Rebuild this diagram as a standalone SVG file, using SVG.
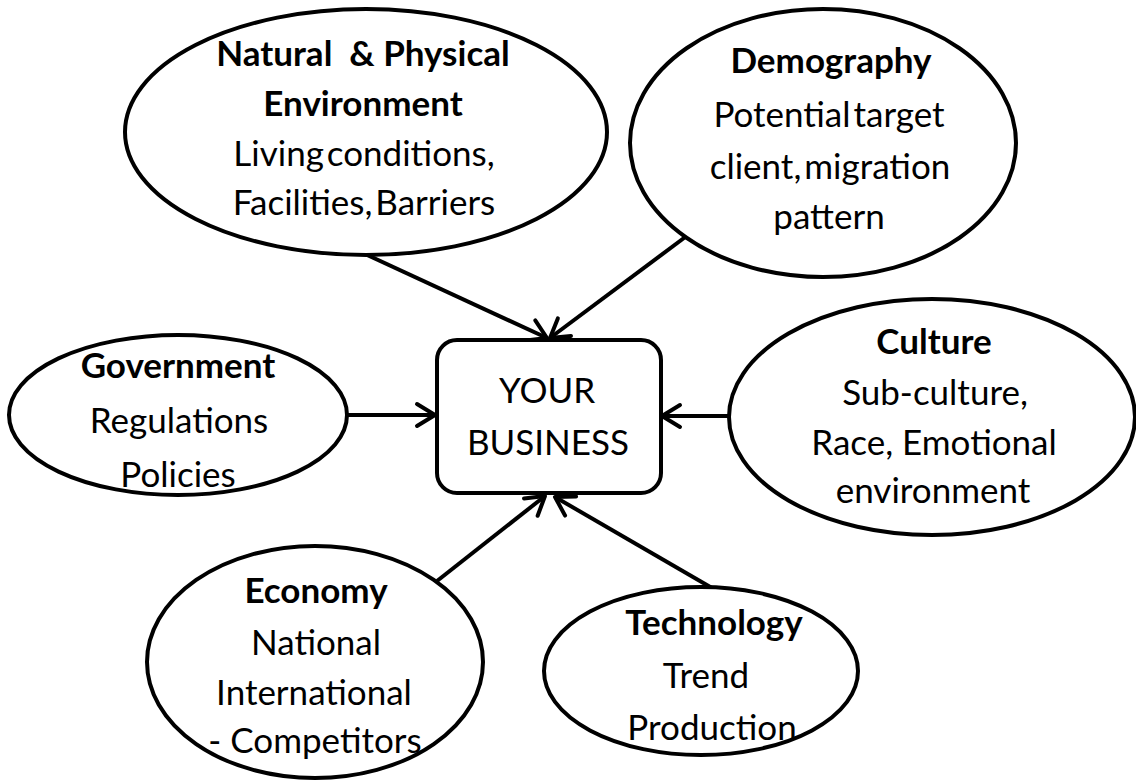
<svg xmlns="http://www.w3.org/2000/svg" width="1136" height="782" viewBox="0 0 1136 782">
<defs>
<style>
.shape{fill:#fff;stroke:#000;stroke-width:4}
.t{font-family:Lato,"Liberation Sans",sans-serif;font-size:35px;fill:#000;text-anchor:middle}
.b{font-weight:bold}
.tight{word-spacing:-6px}
.conn line{stroke:#000;stroke-width:4;fill:none}
</style>
<marker id="arr" markerUnits="userSpaceOnUse" markerWidth="30" markerHeight="30" viewBox="-24 -15 30 30" refX="0" refY="0" orient="auto">
<path d="M-18,-11 L0,0 L-18,11" fill="none" stroke="#000" stroke-width="4" stroke-linecap="round" stroke-linejoin="round"/>
</marker>
</defs>
<rect width="1136" height="782" fill="#fff"/>
<g id="connectors" class="conn">
<line x1="365" y1="254" x2="547" y2="338" marker-end="url(#arr)"/>
<line x1="688" y1="235" x2="550" y2="338" marker-end="url(#arr)"/>
<line x1="347" y1="415" x2="435" y2="415" marker-end="url(#arr)"/>
<line x1="729" y1="416" x2="662" y2="416" marker-end="url(#arr)"/>
<line x1="437" y1="581" x2="545" y2="496" marker-end="url(#arr)"/>
<line x1="712" y1="588" x2="555" y2="497" marker-end="url(#arr)"/>
</g>
<g id="natural">
<ellipse class="shape" cx="366" cy="132" rx="241" ry="123"/>
<text class="t b" x="363" y="66">Natural&#160; &amp; Physical</text>
<text class="t b" x="363" y="116">Environment</text>
<text class="t tight" x="364" y="166">Living conditions,</text>
<text class="t tight" x="364" y="215">Facilities, Barriers</text>
</g>
<g id="demography">
<ellipse class="shape" cx="823" cy="143" rx="193" ry="134"/>
<text class="t b" x="831" y="73">Demography</text>
<text class="t tight" x="829" y="127">Potential target</text>
<text class="t tight" x="830" y="179">client, migration</text>
<text class="t" x="829" y="229">pattern</text>
</g>
<g id="government">
<ellipse class="shape" cx="178" cy="415" rx="169" ry="80"/>
<text class="t b" x="178" y="378">Government</text>
<text class="t" x="179" y="433">Regulations</text>
<text class="t" x="178" y="487">Policies</text>
</g>
<g id="business">
<rect class="shape" x="437" y="340" width="224" height="153" rx="20" ry="20"/>
<text class="t" x="547" y="403">YOUR</text>
<text class="t" x="548" y="455">BUSINESS</text>
</g>
<g id="culture">
<ellipse class="shape" cx="932" cy="417" rx="203" ry="118"/>
<text class="t b" x="934" y="354">Culture</text>
<text class="t" x="935" y="405">Sub-culture,</text>
<text class="t" x="934" y="455">Race, Emotional</text>
<text class="t" x="933" y="503">environment</text>
</g>
<g id="economy">
<ellipse class="shape" cx="315" cy="662" rx="168" ry="116"/>
<text class="t b" x="316" y="603">Economy</text>
<text class="t" x="316" y="655">National</text>
<text class="t" x="314" y="705">International</text>
<text class="t" x="315" y="753">- Competitors</text>
</g>
<g id="technology">
<ellipse class="shape" cx="701" cy="671" rx="157" ry="84"/>
<text class="t b" x="714" y="635">Technology</text>
<text class="t" x="706" y="688">Trend</text>
<text class="t" x="712" y="740">Production</text>
</g>
</svg>
